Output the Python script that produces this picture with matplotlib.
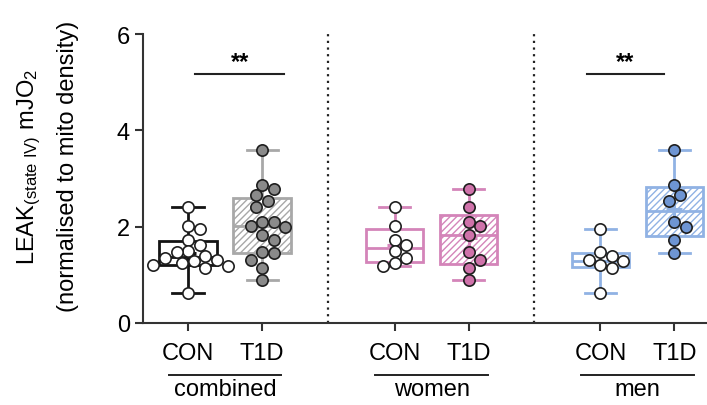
import numpy as np
import matplotlib
matplotlib.use("Agg")
import matplotlib.pyplot as plt

plt.rcParams['font.family'] = ['Liberation Sans', 'DejaVu Sans']
plt.rcParams['mathtext.default'] = 'regular'
plt.rcParams['hatch.linewidth'] = 1.0

# LEAK respiration per subject, normalised to mito density
women_con = [2.40, 2.02, 1.73, 1.62, 1.49, 1.34, 1.24, 1.18]
women_t1d = [2.78, 2.40, 2.10, 2.01, 1.83, 1.47, 1.31, 1.14, 0.90]
men_con = [1.95, 1.47, 1.40, 1.31, 1.28, 1.20, 1.14, 0.62]
men_t1d = [3.59, 2.87, 2.66, 2.54, 2.10, 2.00, 1.73, 1.45]
combined_con = women_con + men_con
combined_t1d = women_t1d + men_t1d

groups = ["combined", "women", "men"]
conditions = ["CON", "T1D"]
series = [combined_con, combined_t1d, women_con, women_t1d, men_con, men_t1d]
significance = {"combined": "**", "men": "**"}

positions = [0, 1, 2.79, 3.79, 5.57, 6.57]
edge_colors = ['#141414', '#a8a8a8', '#d484b9', '#d484b9', '#90b2e4', '#90b2e4']
dot_colors = ['white', '#8a8a8a', 'white', '#cf72aa', 'white', '#6e95d3']
hatched = [False, True, False, True, False, True]

fig = plt.figure(figsize=(7.07, 4.06), dpi=100)
ax = fig.add_axes([143 / 707, 82 / 406, 564 / 707, 289 / 406])
ax.set_xlim(-0.608, 7.01)
ax.set_ylim(0, 6)

PX_X = 74.0   # pixels per x unit
PX_Y = 48.2   # pixels per y unit
DOT = 11.5    # marker diameter in pixels


def swarm(values):
    # place points as close to the centre as possible without overlap
    placed = []
    offsets = np.zeros(len(values))
    order = np.argsort(values)[::-1]
    steps = np.arange(0, 6 * DOT, DOT / 2)
    cands = sorted(set(list(steps) + list(-steps)), key=lambda v: (abs(v), -v))
    for i in order:
        y = values[i] * PX_Y
        for c in cands:
            if all((c - px) ** 2 + (y - py) ** 2 >= DOT ** 2 for px, py in placed):
                placed.append((c, y))
                offsets[i] = c / PX_X
                break
    return offsets


for vals, pos, ec, dc, hat in zip(series, positions, edge_colors, dot_colors, hatched):
    v = np.array(vals)
    q1, med, q3 = np.percentile(v, [25, 50, 75], method='weibull')
    stats = [dict(med=med, q1=q1, q3=q3, whislo=v.min(), whishi=v.max(),
                  mean=v.mean(), fliers=[])]
    bp = ax.bxp(stats, positions=[pos], widths=0.78, capwidths=0.42,
                patch_artist=True, showmeans=True, manage_ticks=False,
                boxprops=dict(linewidth=2.0, edgecolor=ec,
                              facecolor='white', hatch='/////' if hat else None),
                whiskerprops=dict(linewidth=2.0, color=ec),
                capprops=dict(linewidth=2.0, color=ec),
                medianprops=dict(linewidth=2.0, color=ec),
                meanprops=dict(marker='+', markersize=11, markeredgewidth=2.2,
                               markeredgecolor=ec))
    for box in bp['boxes']:
        box.set_zorder(2)
    for m in bp['means'] + bp['medians']:
        m.set_zorder(3)
    ax.scatter(pos + swarm(v), v, s=DOT ** 2 * 0.5, facecolor=dc,
               edgecolor='#1e1e1e', linewidth=1.2, zorder=4)

# separators between groups
for xs in [1.89, 4.68]:
    ax.axvline(xs, color='#222222', linestyle=(0, (1, 2)), linewidth=1.6, zorder=1)

# significance bars
for g, mark in significance.items():
    i = groups.index(g)
    x0, x1 = positions[2 * i], positions[2 * i + 1]
    xa, xb = (x0 + 0.1, x1 + 0.3) if g == "combined" else (x0 - 0.18, x1 - 0.14)
    ax.plot([xa, xb], [5.17, 5.17], color='#222222', linewidth=1.5, zorder=3)
    ax.text((xa + xb) / 2, 5.42, mark, ha='center', va='center',
            fontsize=17, fontweight='bold')

for side in ['top', 'right']:
    ax.spines[side].set_visible(False)
for side in ['left', 'bottom']:
    ax.spines[side].set_linewidth(1.5)
    ax.spines[side].set_color('#333333')

ax.set_yticks([0, 2, 4, 6])
ax.set_xticks(positions)
ax.set_xticklabels(conditions * len(groups))
ax.tick_params(axis='both', labelsize=17, width=1.5, length=6, color='#333333')
ax.tick_params(axis='x', pad=8)

# group captions with underline
for i, g in enumerate(groups):
    xc = (positions[2 * i] + positions[2 * i + 1]) / 2
    ax.plot([xc - 0.76, xc + 0.76], [-1.08, -1.08], color='#222222',
            linewidth=1.4, clip_on=False)
    ax.text(xc, -1.36, g, ha='center', va='center', fontsize=17)

fig.text(0.042, 0.59, r'LEAK$_{(state\ IV)}$ mJO$_2$', rotation=90,
         ha='center', va='center', fontsize=17)
fig.text(0.096, 0.59, '(normalised to mito density)', rotation=90,
         ha='center', va='center', fontsize=17)

fig.savefig('out.png', dpi=100)
